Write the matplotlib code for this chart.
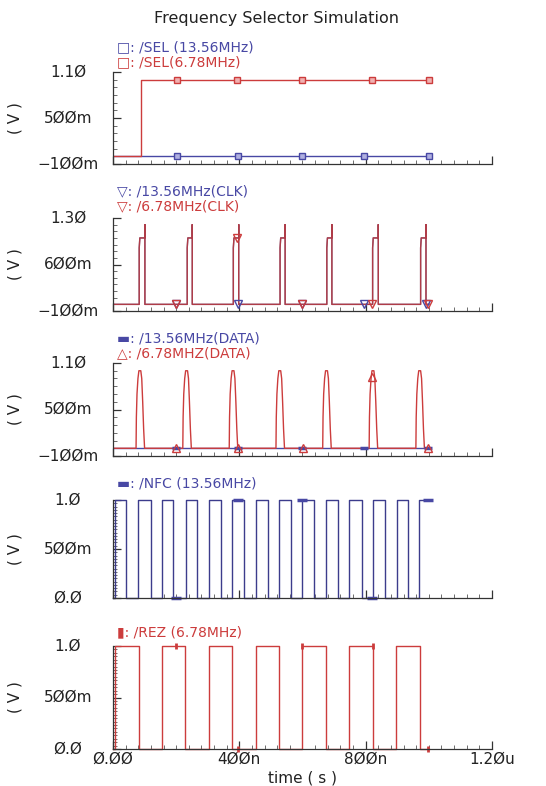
import numpy as np
import matplotlib
matplotlib.use("Agg")
import matplotlib.pyplot as plt
from matplotlib.ticker import MultipleLocator, FixedLocator

BLUE = "#4848a4"
RED = "#cc3c3c"

# time axis (ns)
t_end = 1000
x_major = [0, 400, 800, 1200]
x_labels = ["Ø.ØØ", "4ØØn", "8ØØn", "1.2Øu"]

# SEL panel
sel_red_rise = [88]
sel_red_fall = [None]
sel_red_mk_t = [203, 393, 598, 820, 1000]
sel_red_mk_v = [1, 1, 1, 1, 1]
sel_blue_mk_t = [203, 396, 598, 795, 1000]
sel_blue_mk_v = [0, 0, 0, 0, 0]

# CLK panel (pulse edges, levels)
clk_rise = [83, 235, 381, 529, 677, 822, 974]
clk_fall = [101, 251, 398, 545, 693, 840, 991]
clk_levels = [0.85, 1.0, 1.2]   # first edge, flat top, spike at falling edge
clk_red_mk_t = [199, 392, 600, 819, 998]
clk_red_mk_v = [0, 1.0, 0, 0, 0]
clk_blue_mk_t = [200, 396, 600, 796, 990]
clk_blue_mk_v = [0, 0, 0, 0, 0]

# DATA panel (pulse start times, pulse shape)
data_start = [73, 221, 368, 516, 664, 811, 959]
data_shape_dt = [0, 1, 3, 6, 9, 15, 18, 21, 24, 27]
data_shape_v = [0, 0.4, 0.7, 0.9, 1.0, 1.0, 0.9, 0.6, 0.25, 0]
data_red_mk_t = [201, 397, 603, 819, 998]
data_red_mk_v = [0, 0, 0, 0.92, 0]
data_blue_mk_t = [198, 395, 597, 796, 998]
data_blue_mk_v = [0, 0, 0, 0, 0]

# NFC panel (13.56MHz square wave edges)
nfc_rise = [6, 80, 156, 230, 304, 378, 452, 527, 600, 674, 748, 822, 898, 970]
nfc_fall = [41, 119, 191, 267, 341, 416, 490, 563, 637, 711, 787, 861, 935, None]
nfc_mk_t = [201, 397, 600, 819, 998]
nfc_mk_v = [0, 1, 1, 0, 1]

# REZ panel (6.78MHz square wave edges)
rez_rise = [6, 154, 305, 452, 600, 748, 896]
rez_fall = [83, 228, 378, 527, 674, 822, 972]
rez_mk_t = [201, 397, 600, 822, 998]
rez_mk_v = [1, 0, 1, 1, 0]


def square(rise, fall):
    t, v = [0], [0]
    for r, f in zip(rise, fall):
        t += [r, r]
        v += [0, 1]
        if f is None:
            t.append(t_end)
            v.append(1)
            return t, v
        t += [f, f]
        v += [1, 0]
    t.append(t_end)
    v.append(0)
    return t, v


def clk_wave(rise, fall):
    t, v = [0], [0]
    for r, f in zip(rise, fall):
        t += [r, r, r + 2, f, f, f]
        v += [0, clk_levels[0], clk_levels[1], clk_levels[1], clk_levels[2], 0]
    t.append(t_end)
    v.append(0)
    return t, v


def data_wave(starts):
    t, v = [0], [0]
    for s in starts:
        t += [s + d for d in data_shape_dt]
        v += data_shape_v
    t.append(t_end)
    v.append(0)
    return t, v


fig = plt.figure(figsize=(5.46, 7.86), dpi=100)
W, H = 546.0, 786.0
ax_left, ax_right = 113, 492


def make_axes(top, bottom, ylim, yticks, ylabels, yminor):
    ax = fig.add_axes([ax_left / W, 1 - bottom / H, (ax_right - ax_left) / W, (bottom - top) / H])
    ax.set_xlim(0, 1200)
    ax.set_ylim(*ylim)
    for s in ["top", "right"]:
        ax.spines[s].set_visible(False)
    for s in ["left", "bottom"]:
        ax.spines[s].set_color("#333333")
        ax.spines[s].set_linewidth(0.9)
    ax.xaxis.set_major_locator(FixedLocator(x_major))
    ax.xaxis.set_minor_locator(MultipleLocator(40))
    ax.yaxis.set_major_locator(FixedLocator(yticks))
    ax.yaxis.set_minor_locator(yminor)
    ax.tick_params(which="major", direction="in", length=6, width=0.9, color="#333333")
    ax.tick_params(which="minor", direction="in", length=3, width=0.6, color="#555555")
    ax.set_xticklabels([])
    ax.set_yticklabels([])
    tr = ax.get_yaxis_transform()
    for yt, yl in zip(yticks, ylabels):
        ax.text((68 - ax_left) / (ax_right - ax_left), yt, yl, transform=tr,
                ha="center", va="center", fontsize=11, color="#222222")
    ax.text((15 - ax_left) / (ax_right - ax_left), 0.5, "( V )", transform=ax.transAxes,
            rotation=90, ha="center", va="center", fontsize=11, color="#222222")
    return ax


def legend(y, text, color):
    fig.text(117 / W, 1 - y / H, text, color=color, fontsize=10, ha="left", va="center")


fig.text(277 / W, 1 - 18 / H, "Frequency Selector Simulation", ha="center", va="center",
         fontsize=11.5, color="#222222")

lw = 1.0

# SEL
ax1 = make_axes(72, 164, (-0.1, 1.1), [-0.1, 0.5, 1.1], ["−1ØØm", "5ØØm", "1.1Ø"], MultipleLocator(0.1))
t, v = square(sel_red_rise, sel_red_fall)
ax1.plot([0, t_end], [0, 0], color=BLUE, lw=lw)
ax1.plot(t, v, color=RED, lw=lw)
ax1.plot(sel_blue_mk_t, sel_blue_mk_v, ls="none", marker="s", ms=4.5, mfc="#b0b0e0", mec=BLUE, mew=1)
ax1.plot(sel_red_mk_t, sel_red_mk_v, ls="none", marker="s", ms=4.5, mfc="#f0b0b0", mec=RED, mew=1)
legend(47, "□: /SEL (13.56MHz)", BLUE)
legend(62, "□: /SEL(6.78MHz)", RED)

# CLK
ax2 = make_axes(218, 311, (-0.1, 1.3), [-0.1, 0.6, 1.3], ["−1ØØm", "6ØØm", "1.3Ø"], MultipleLocator(0.1))
t, v = clk_wave(clk_rise, clk_fall)
ax2.plot(t, v, color="#5a3c6e", lw=lw)
ax2.plot(t, v, color=RED, lw=lw, alpha=0.75)
ax2.plot(clk_blue_mk_t, clk_blue_mk_v, ls="none", marker="v", ms=5.5, mfc="none", mec=BLUE, mew=1)
ax2.plot(clk_red_mk_t, clk_red_mk_v, ls="none", marker="v", ms=5.5, mfc="none", mec=RED, mew=1)
legend(191, "▽: /13.56MHz(CLK)", BLUE)
legend(206, "▽: /6.78MHz(CLK)", RED)

# DATA
ax3 = make_axes(363, 456, (-0.1, 1.1), [-0.1, 0.5, 1.1], ["−1ØØm", "5ØØm", "1.1Ø"], MultipleLocator(0.1))
t, v = data_wave(data_start)
ax3.plot([0, t_end], [0, 0], color=BLUE, lw=lw)
ax3.plot(t, v, color=RED, lw=lw)
ax3.plot(data_blue_mk_t, data_blue_mk_v, ls="none", marker="_", ms=6, mec=BLUE, mew=2.5)
ax3.plot(data_red_mk_t, data_red_mk_v, ls="none", marker="^", ms=5.5, mfc="none", mec=RED, mew=1)
legend(338, "▬: /13.56MHz(DATA)", BLUE)
legend(353, "△: /6.78MHZ(DATA)", RED)

# NFC
dense = FixedLocator(np.arange(0, 1.0001, 1 / 30))
ax4 = make_axes(500, 598, (0, 1.0), [0, 0.5, 1.0], ["Ø.Ø", "5ØØm", "1.Ø"], dense)
t, v = square(nfc_rise, nfc_fall)
ax4.plot(t, v, color="#3c3c8c", lw=lw, clip_on=False)
ax4.plot(nfc_mk_t, nfc_mk_v, ls="none", marker="_", ms=7, mec=BLUE, mew=2.5, clip_on=False)
legend(484, "▬: /NFC (13.56MHz)", BLUE)

# REZ
ax5 = make_axes(646, 749, (0, 1.0), [0, 0.5, 1.0], ["Ø.Ø", "5ØØm", "1.Ø"], dense)
t, v = square(rez_rise, rez_fall)
ax5.plot(t, v, color=RED, lw=lw, clip_on=False)
ax5.plot(rez_mk_t, rez_mk_v, ls="none", marker="|", ms=5, mec=RED, mew=2, clip_on=False)
legend(632, "▮: /REZ (6.78MHz)", RED)
ax5.set_xticklabels(x_labels, fontsize=11, color="#222222")
ax5.tick_params(axis="x", which="major", pad=2)
fig.text(302 / W, 1 - 778 / H, "time ( s )", ha="center", va="center", fontsize=11, color="#222222")

fig.savefig("out.png", dpi=100, facecolor="white")
